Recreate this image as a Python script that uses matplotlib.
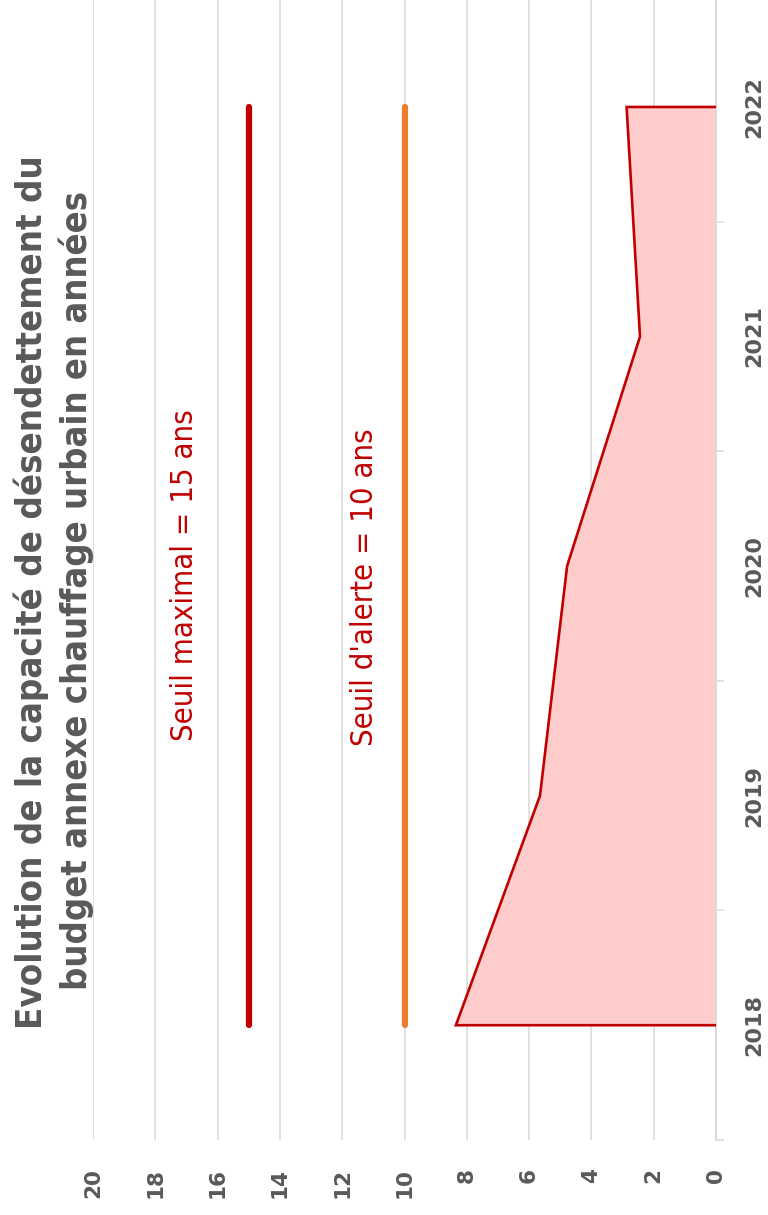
import matplotlib
matplotlib.use("Agg")
import matplotlib.pyplot as plt
from matplotlib import font_manager as fm

years = ['2018', '2019', '2020', '2021', '2022']
capacite = [8.35, 5.65, 4.78, 2.44, 2.87]
seuil_max = 15
seuil_alerte = 10
value_ticks = list(range(0, 21, 2))

names = {f.name for f in fm.fontManager.ttflist}
narrow = 'Liberation Sans Narrow' if 'Liberation Sans Narrow' in names else 'DejaVu Sans'

grey_txt = '#595959'
dark_red = '#C00000'
orange = '#ED7D31'

fig = plt.figure(figsize=(7.68, 12.15), dpi=100)
ax = fig.add_axes([93 / 768, 75 / 1215, 623 / 768, 1140 / 1215])

pos = list(range(len(years)))

# area (value axis runs horizontally, right to left)
ax.fill_betweenx(pos, 0, capacite, color='#FFCCCC', zorder=2, linewidth=0)
ax.plot([0] + capacite + [0], [pos[0]] + pos + [pos[-1]], color=dark_red, lw=1.9,
        zorder=3, solid_joinstyle='miter')

# thresholds
ax.plot([seuil_max] * len(pos), pos, color=dark_red, lw=4.5, solid_capstyle='round', zorder=3)
ax.plot([seuil_alerte] * len(pos), pos, color=orange, lw=4.5, solid_capstyle='round', zorder=3)

ax.set_xlim(20, 0)
ax.set_ylim(-0.5, 4.466)

ax.set_xticks(value_ticks)
ax.set_xticklabels([str(v) for v in value_ticks], rotation=90, color=grey_txt,
                   fontsize=15.5, fontweight='bold')
ax.tick_params(axis='x', length=0, pad=20)
ax.grid(axis='x', color='#D9D9D9', lw=1.1, zorder=0)

ax.yaxis.tick_right()
ax.set_yticks(pos)
ax.set_yticklabels(years, rotation=90, color=grey_txt, fontsize=16, fontweight='bold',
                   va='center')
ax.set_yticks([p - 0.5 for p in pos], minor=True)
ax.tick_params(axis='y', which='major', length=0, pad=20)
ax.tick_params(axis='y', which='minor', length=6, color='#D9D9D9', width=1.1)

for s in ['top', 'left', 'bottom']:
    ax.spines[s].set_visible(False)
ax.spines['right'].set_color('#D9D9D9')
ax.spines['right'].set_linewidth(1.3)
ax.set_axisbelow(True)

# labels on thresholds
t1 = ax.text(17.05, 1.96, 'Seuil maximal = 15 ans', rotation=90, ha='center', va='center',
             color=dark_red, family=narrow, fontstretch='condensed', fontsize=18)
t2 = ax.text(11.27, 1.91, "Seuil d'alerte = 10 ans", rotation=90, ha='center', va='center',
             color=dark_red, family=narrow, fontstretch='condensed', fontsize=18)

# title, rotated like the rest
h1 = fig.text(31 / 768, 623 / 1215, 'Evolution de la capacité de désendettement du',
              rotation=90, ha='center', va='center', color=grey_txt, family=narrow,
              fontstretch='condensed', fontweight='bold', fontsize=24)
h2 = fig.text(76 / 768, 625 / 1215, 'budget annexe chauffage urbain en années',
              rotation=90, ha='center', va='center', color=grey_txt, family=narrow,
              fontstretch='condensed', fontweight='bold', fontsize=24)

# scale the long texts to the lengths measured on the picture
fig.canvas.draw()
r = fig.canvas.get_renderer()
for t, target in [(t1, 332), (t2, 317), (h1, 875), (h2, 800)]:
    length = t.get_window_extent(r).height
    t.set_fontsize(t.get_fontsize() * target / length)

fig.savefig('out.png', dpi=100)
